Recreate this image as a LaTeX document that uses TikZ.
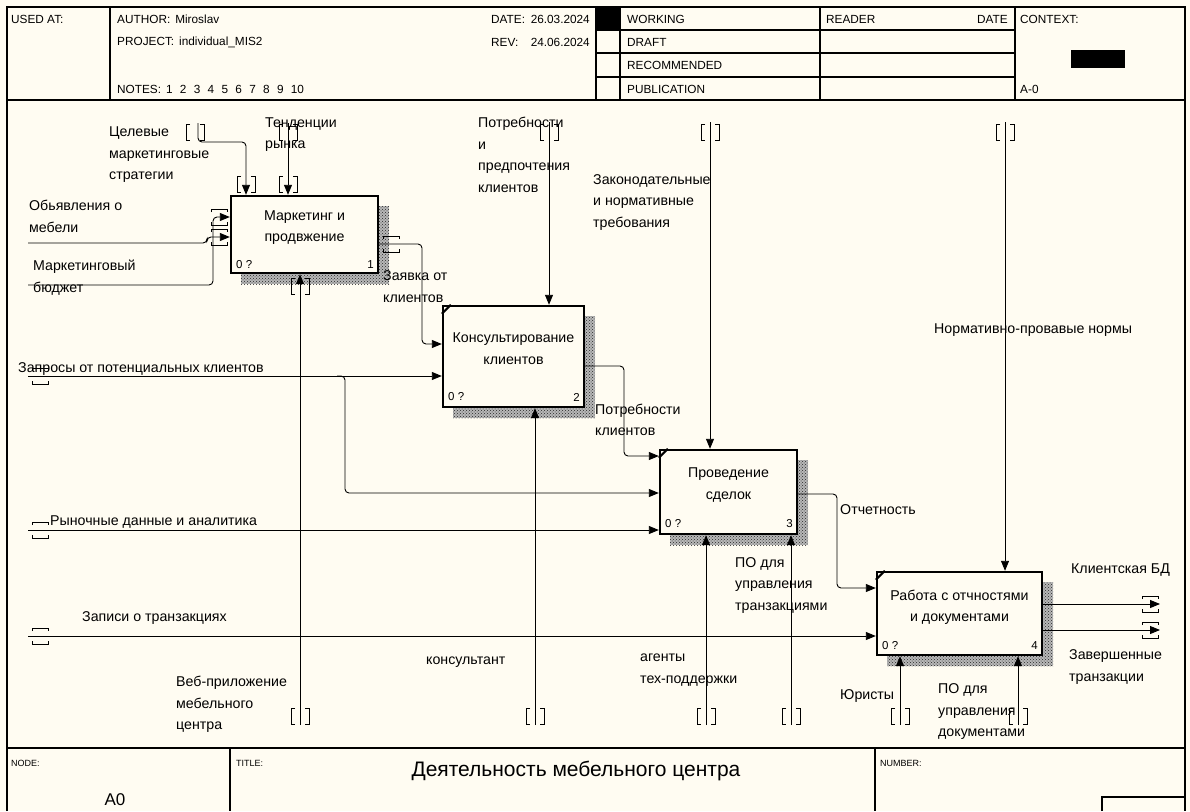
\documentclass[tikz,border=0pt]{standalone}
\usepackage{fontspec}
\setmainfont{Liberation Sans}
\usetikzlibrary{arrows.meta,patterns}
\definecolor{paper}{RGB}{255,252,242}
\newcommand\lblfont{\fontsize{14.2}{21.5}\selectfont}
\newcommand\hdrfont{\fontsize{11.8}{13}\selectfont}
\newcommand\numfont{\fontsize{11.5}{13}\selectfont}
\newcommand\tinyfont{\fontsize{9}{10}\selectfont}

\begin{document}
\begin{tikzpicture}[x=1pt,y=-1pt,
  frame/.style={line width=1.2pt},
  fbox/.style={draw, line width=2.4pt, fill=paper, inner sep=0pt},
  shadebase/.style={fill=black!28},
  shade/.style={pattern=crosshatch dots, pattern color=black!85},
  flow/.style={line width=0.9pt, rounded corners=4pt},
  arr/.style={flow, -{Triangle[length=10pt,width=8pt]}},
  tun/.style={line width=0.9pt},
  lbl/.style={font=\lblfont, anchor=west, inner sep=0pt, align=left, yshift=-3.5pt,
    execute at begin node=\strut, execute at end node=\strut},
  btxt/.style={font=\lblfont, align=center, inner sep=0pt, yshift=-3.5pt,
    execute at begin node=\strut, execute at end node=\strut},
  hdr/.style={font=\hdrfont, anchor=west, inner sep=0pt},
  num/.style={font=\numfont, inner sep=0pt},
  vtun/.pic={\draw[tun] (-5,-8) -- (-9,-8) -- (-9,8) -- (-5,8);
             \draw[tun] (5,-8) -- (9,-8) -- (9,8) -- (5,8);},
  htun/.pic={\draw[tun] (-8,-5) -- (-8,-8) -- (8,-8) -- (8,-5);
             \draw[tun] (-8,5) -- (-8,8) -- (8,8) -- (8,5);}
]
% page and frame
\fill[paper] (0,0) rectangle (1190,811);
\useasboundingbox (0,0) rectangle (1190,811);
\draw[frame] (7,811) -- (7,7) -- (1185,7) -- (1185,811);

% ---------- header ----------
\draw[frame] (7,100) -- (1185,100);
\foreach \xx in {110,596,620,820,1015} \draw[frame] (\xx,7) -- (\xx,100);
\foreach \yy in {30,53,77} \draw[frame] (596,\yy) -- (1015,\yy);
\fill (596,7) rectangle (620,30);
\fill (1071,50) rectangle (1125,68);
\node[hdr] (usedat) at (11,19) {USED AT:};
\node[hdr] (author) at (117,19) {AUTHOR:\hspace{5pt}Miroslav};
\node[hdr] (project) at (117,42) {PROJECT:\hspace{5pt}individual\_MIS2};
\node[hdr] (notes) at (117,89) {NOTES:\hspace{5pt}1\hspace{7.3pt}2\hspace{7.3pt}3\hspace{7.3pt}4\hspace{7.3pt}5\hspace{7.3pt}6\hspace{7.3pt}7\hspace{7.3pt}8\hspace{7.3pt}9\hspace{7.3pt}10};
\node[hdr] (datel) at (491,19) {DATE:};
\node[hdr, anchor=east] (datev) at (590,19) {26.03.2024};
\node[hdr] (revl) at (491,42) {REV:};
\node[hdr, anchor=east] (revv) at (590,42) {24.06.2024};
\node[hdr] (working) at (627,19) {WORKING};
\node[hdr] (draft) at (627,42) {DRAFT};
\node[hdr] (recomm) at (627,65) {RECOMMENDED};
\node[hdr] (public) at (627,89) {PUBLICATION};
\node[hdr] (reader) at (826,19) {READER};
\node[hdr, anchor=east] (rdate) at (1008,19) {DATE};
\node[hdr] (context) at (1020,19) {CONTEXT:};
\node[hdr] (ctxnode) at (1020,89) {A-0};

% ---------- footer ----------
\draw[frame] (7,748) -- (1185,748);
\draw[frame] (230,748) -- (230,811);
\draw[frame] (875,748) -- (875,811);
\draw[frame] (1102,811) -- (1102,797) -- (1185,797);
\node[font=\tinyfont, anchor=west, inner sep=0pt] (nodelbl) at (11,763) {NODE:};
\node[font=\fontsize{17}{19}\selectfont, inner sep=0pt] (nodeval) at (115,800) {A0};
\node[font=\tinyfont, anchor=west, inner sep=0pt] (titlelbl) at (236,763) {TITLE:};
\node[font=\fontsize{21}{23}\selectfont, inner sep=0pt] (titleval) at (576,771) {Деятельность мебельного центра};
\node[font=\tinyfont, anchor=west, inner sep=0pt] (numlbl) at (880,763) {NUMBER:};

% ---------- function boxes ----------
\foreach \nm/\cx/\cy/\w/\h in {b1/304.5/234.5/147/77, b2/513.5/356.5/141/101,
                               b3/728.5/492/137/84, b4/959.5/613.5/165/83} {
  \fill[shadebase] (\cx-\w/2+10,\cy-\h/2+10) rectangle (\cx+\w/2+11,\cy+\h/2+11);
  \fill[shade] (\cx-\w/2+10,\cy-\h/2+10) rectangle (\cx+\w/2+11,\cy+\h/2+11);
  \node[fbox, minimum width=\w, minimum height=\h] (\nm) at (\cx,\cy) {};
}
% corner marks
\foreach \nm in {b2,b3,b4}
  \draw[line width=2pt] ([yshift=-9pt]\nm.north west) -- ([xshift=9pt]\nm.north west);

\node[btxt] (b1t) at (304.5,226) {Маркетинг и\\продвжение};
\node[btxt] (b2t) at (513.5,348.5) {Консультирование\\клиентов};
\node[btxt] (b3t) at (728.5,483.5) {Проведение\\сделок};
\node[btxt] (b4t) at (959.5,605.5) {Работа с отчностями\\и документами};

\node[num, anchor=west] (b1a) at (236,265) {0 ?};
\node[num, anchor=east] (b1n) at (374,265) {1};
\node[num, anchor=west] (b2a) at (448,397) {0 ?};
\node[num, anchor=east] (b2n) at (580,397) {2};
\node[num, anchor=west] (b3a) at (665,524) {0 ?};
\node[num, anchor=east] (b3n) at (793,524) {3};
\node[num, anchor=west] (b4a) at (882,646) {0 ?};
\node[num, anchor=east] (b4n) at (1038,646) {4};

% ---------- arrow end points ----------
\coordinate (s1) at (198,123);
\coordinate (k1) at (246,142);
\coordinate (s2) at (288,123);
\coordinate (s3) at (28,243);
\coordinate (k3) at (207,243);
\coordinate (s4) at (28,285);
\coordinate (k4) at (213,285);
\coordinate (k5) at (422,244);
\coordinate (s5) at (300,725);
\coordinate (s6) at (549,122);
\coordinate (s7) at (28,376);
\coordinate (j1a) at (337,376);
\coordinate (j1) at (345,376);
\coordinate (k6) at (624,366);
\coordinate (s8) at (535,725);
\coordinate (s9) at (710,122);
\coordinate (s10) at (28,530);
\coordinate (k7) at (837,494);
\coordinate (s11) at (706,725);
\coordinate (s12) at (791,725);
\coordinate (s13) at (1005,122);
\coordinate (s14) at (28,636);
\coordinate (e1) at (1160,604);
\coordinate (e2) at (1160,630);
\coordinate (s15) at (900,725);
\coordinate (s16) at (1018,725);

% ---------- connectors ----------
% box 1
\draw[arr] (s1) |- (k1) -- (k1 |- b1.north);
\draw[arr] (s2) -- (s2 |- b1.north);
\draw[arr] (s3) -- (k3) |- (b1.west |- 0,237);
\draw[arr] (s4) -- (k4) |- (b1.west |- 0,217);
\draw[arr] (b1.east |- 0,244) -- (k5) |- (b2.west |- 0,344);
\draw[arr] (s5) -- (s5 |- b1.south);
% box 2
\draw[arr] (s6) -- (s6 |- b2.north);
\draw[arr] (s7) -- (s7 -| b2.west);
\draw[arr] (j1a) -- (j1) |- (b3.west |- 0,493);
\draw[arr] (b2.east |- 0,366) -- (k6) |- (b3.west |- 0,456);
\draw[arr] (s8) -- (s8 |- b2.south);
% box 3
\draw[arr] (s9) -- (s9 |- b3.north);
\draw[arr] (s10) -- (s10 -| b3.west);
\draw[arr] (b3.east |- 0,494) -- (k7) |- (b4.west |- 0,588);
\draw[arr] (s11) -- (s11 |- b3.south);
\draw[arr] (s12) -- (s12 |- b3.south);
% box 4
\draw[arr] (s13) -- (s13 |- b4.north);
\draw[arr] (s14) -- (s14 -| b4.west);
\draw[arr] (b4.east |- e1) -- (e1);
\draw[arr] (b4.east |- e2) -- (e2);
\draw[arr] (s15) -- (s15 |- b4.south);
\draw[arr] (s16) -- (s16 |- b4.south);

% ---------- tunnel brackets ----------
\foreach \p in {(195,132),(288,132),(549,132),(710,132),(1005,132),
                (246,184),(288,184),(300,286),
                (300,716),(535,716),(706,716),(791,716),(900,716),(1018,716)}
  \pic at \p {vtun};
\foreach \p in {(40,376),(40,530),(40,636),(219.5,217),(219.5,237),(391,244),
                (1150,604),(1150,630)}
  \pic at \p {htun};

% ---------- arrow labels ----------
\node[lbl] (l1) at (109,153) {Целевые\\маркетинговые\\стратегии};
\node[lbl] (l2) at (265,133) {Тенденции\\рынка};
\node[lbl] (l3) at (29,216) {Обьявления о\\мебели};
\node[lbl] (l4) at (33,276) {Маркетинговый\\бюджет};
\node[lbl] (l5) at (383,286.5) {Заявка от\\клиентов};
\node[lbl] (l6) at (478,154.5) {Потребности\\и\\предпочтения\\клиентов};
\node[lbl] (l7) at (593,200.5) {Законодательные\\и нормативные\\требования};
\node[lbl] (l8) at (18,365) {Запросы от потенциальных клиентов};
\node[lbl] (l9) at (595,419.5) {Потребности\\клиентов};
\node[lbl] (l10) at (840,507) {Отчетность};
\node[lbl] (l11) at (50,518) {Рыночные данные и аналитика};
\node[lbl] (l12) at (735,583.5) {ПО для\\управления\\транзакциями};
\node[lbl] (l13) at (82,614) {Записи о транзакциях};
\node[lbl] (l14) at (934,326) {Нормативно-провавые нормы};
\node[lbl] (l15) at (1071,566) {Клиентская БД};
\node[lbl] (l16) at (1069,665.5) {Завершенные\\транзакции};
\node[lbl] (l17) at (426,657) {консультант};
\node[lbl] (l18) at (640,668.5) {агенты\\тех-поддержки};
\node[lbl] (l19) at (176,703) {Веб-приложение\\мебельного\\центра};
\node[lbl] (l20) at (840,692) {Юристы};
\node[lbl] (l21) at (938,710) {ПО для\\управления\\документами};
\end{tikzpicture}
\end{document}
